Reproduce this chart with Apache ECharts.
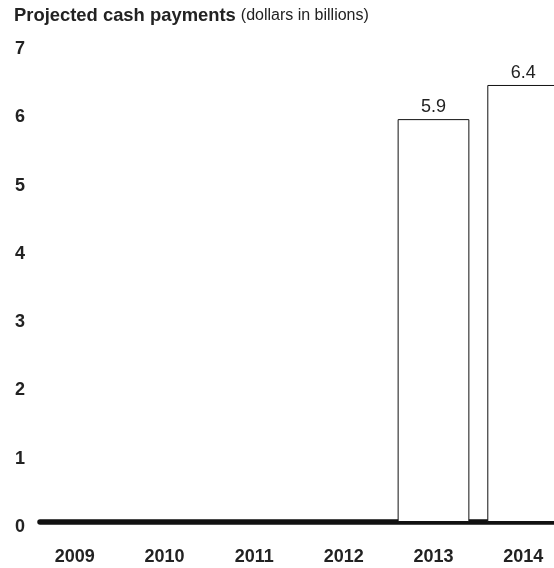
<!DOCTYPE html>
<html>
<head>
<meta charset="utf-8">
<script src="https://cdn.jsdelivr.net/npm/echarts@6/dist/echarts.min.js"></script>
<style>
  html, body { margin: 0; padding: 0; background: #fff; }
  #chart { width: 554px; height: 568px; }
</style>
</head>
<body>
<div id="chart"></div>
<script>
// Projected cash payments by year, in billions of dollars
const years = ['2009', '2010', '2011', '2012', '2013', '2014'];
const payments = [null, null, null, null, 5.9, 6.4];
const yTicks = [0, 1, 2, 3, 4, 5, 6, 7];

const ink = '#222';
const font = 'Liberation Sans, Arial, Helvetica, sans-serif';

const chart = echarts.init(document.getElementById('chart'), null, { renderer: 'canvas' });

chart.setOption({
  animation: false,
  backgroundColor: '#fff',
  title: {
    left: 14,
    top: 7,
    padding: 0,
    text: '{b|Projected cash payments} {n|(dollars in billions)}',
    textStyle: {
      rich: {
        b: { fontFamily: font, fontSize: 18.4, fontWeight: 'bold', color: ink },
        n: { fontFamily: font, fontSize: 16, fontWeight: 'normal', color: ink }
      }
    }
  },
  grid: [
    // bars, year labels and value scale (runs past the right edge of the canvas)
    { left: 30, width: 538, top: 44, bottom: 46, containLabel: false, outerBoundsMode: 'none' },
    // heavy zero baseline
    { left: 40, right: 0, top: 44, bottom: 46, containLabel: false, outerBoundsMode: 'none' }
  ],
  xAxis: [
    {
      gridIndex: 0, type: 'category', data: years,
      axisLine: { show: false }, axisTick: { show: false },
      axisLabel: {
        margin: 26, color: ink, fontFamily: font, fontSize: 18, fontWeight: 'bold'
      }
    },
    {
      gridIndex: 1, type: 'category', data: years,
      axisLine: { show: true, lineStyle: { color: '#111', width: 5.5, cap: 'round' } },
      axisTick: { show: false }, axisLabel: { show: false }
    }
  ],
  yAxis: [
    {
      gridIndex: 0, type: 'value', min: yTicks[0], max: yTicks[yTicks.length - 1], interval: 1,
      axisLine: { show: false }, axisTick: { show: false }, splitLine: { show: false },
      axisLabel: {
        align: 'right', margin: 5, color: ink, fontFamily: font, fontSize: 18, fontWeight: 'bold',
        verticalAlign: 'top', lineHeight: 10
      }
    },
    { gridIndex: 1, type: 'value', min: 0, max: 7, show: false }
  ],
  series: [
    {
      type: 'bar',
      xAxisIndex: 0, yAxisIndex: 0,
      data: payments,
      barWidth: '80%',
      itemStyle: { color: '#fff', borderColor: '#111', borderWidth: 1 },
      label: {
        show: true, position: 'top', distance: 3,
        color: ink, fontFamily: font, fontSize: 18,
        formatter: p => p.value.toFixed(1)
      },
      z: 1
    }
  ]
});
</script>
</body>
</html>
